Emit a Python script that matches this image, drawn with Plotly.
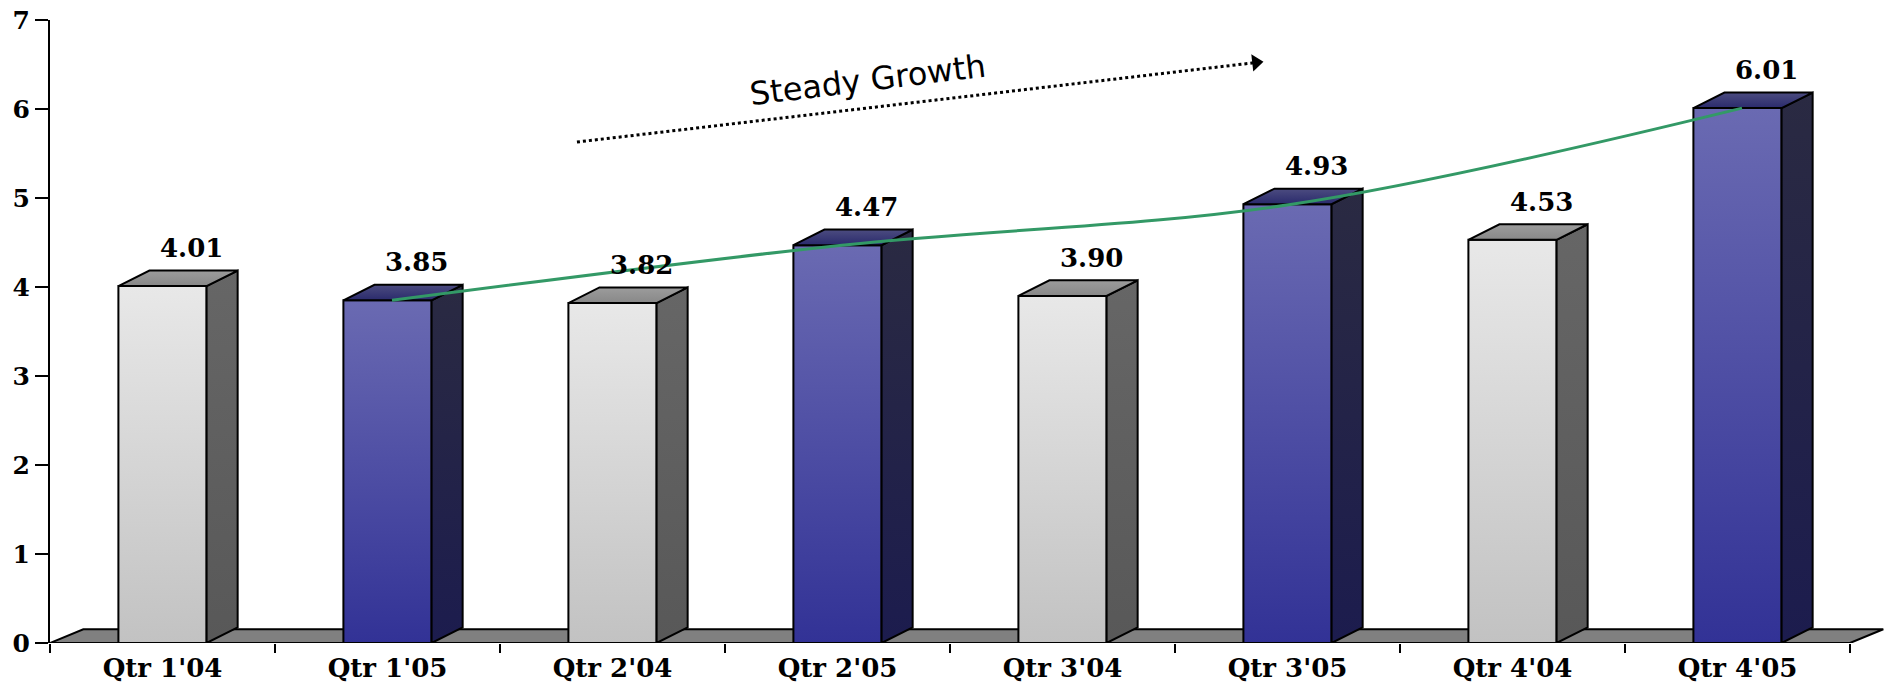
import plotly.graph_objects as go

# Quarterly values, 2004 vs 2005
categories = ["Qtr 1'04", "Qtr 1'05", "Qtr 2'04", "Qtr 2'05",
              "Qtr 3'04", "Qtr 3'05", "Qtr 4'04", "Qtr 4'05"]
values = [4.01, 3.85, 3.82, 4.47, 3.90, 4.93, 4.53, 6.01]
years = ["04", "05", "04", "05", "04", "05", "04", "05"]
y_ticks = [0, 1, 2, 3, 4, 5, 6, 7]

# Pseudo-3D geometry (axis units)
HALF_W = 0.196      # half width of the front face
DX = 0.138          # depth offset along x
DY = 0.175          # depth offset along y
X_MAX = 7.5 + 35 / 225

palette = {
    "04": dict(front=["#c2c2c2", "#e8e8e8"], side=["#585858", "#666666"],
               top=["#888888", "#9c9c9c"]),
    "05": dict(front=["#323296", "#6a6ab2"], side=["#1c1c4e", "#2a2a42"],
               top=["#2a2a6c", "#4c4c80"]),
}

fig = go.Figure()


def face(xs, ys, colors):
    fig.add_trace(go.Scatter(
        x=xs + [xs[0]], y=ys + [ys[0]], mode="lines", fill="toself",
        fillgradient=dict(type="vertical",
                          colorscale=[[0, colors[0]], [1, colors[1]]]),
        line=dict(color="black", width=2), hoverinfo="skip",
        showlegend=False))


# floor slab
n = len(categories)
fig.add_trace(go.Scatter(
    x=[-0.5, n - 0.5, n - 0.5 + DX + 0.01, -0.5 + DX + 0.01, -0.5],
    y=[0, 0, DY - 0.02, DY - 0.02, 0], mode="lines", fill="toself",
    fillcolor="#808080", line=dict(color="black", width=2),
    hoverinfo="skip", showlegend=False))

# bars: front, side and top faces
for i, (v, yr) in enumerate(zip(values, years)):
    c = palette[yr]
    x0, x1 = i - HALF_W, i + HALF_W
    face([x0, x1, x1, x0], [0, 0, v, v], c["front"])
    face([x1, x1 + DX, x1 + DX, x1], [0, DY, v + DY, v], c["side"])
    face([x0, x1, x1 + DX, x0 + DX], [v, v, v + DY, v + DY], c["top"])

# smooth trend through the 2005 quarters
trend_x = [i + 0.02 for i, yr in enumerate(years) if yr == "05"]
trend_y = [v for v, yr in zip(values, years) if yr == "05"]
fig.add_trace(go.Scatter(
    x=trend_x, y=trend_y, mode="lines",
    line=dict(color="#339966", width=3, shape="spline", smoothing=1.0),
    hoverinfo="skip", showlegend=False))

# dotted "steady growth" arrow
arrow_x = [1.842, 4.86]
arrow_y = [5.629, 6.522]
fig.add_trace(go.Scatter(
    x=arrow_x, y=arrow_y, mode="lines",
    line=dict(color="black", width=3, dash="dot"),
    hoverinfo="skip", showlegend=False))
fig.add_trace(go.Scatter(
    x=[arrow_x[1]], y=[arrow_y[1]], mode="markers",
    marker=dict(symbol="triangle-right", size=15, color="black",
                angle=-6.5),
    hoverinfo="skip", showlegend=False))

fig.add_annotation(x=3.133, y=6.33, text="Steady Growth", showarrow=False,
                   textangle=-7,
                   font=dict(family="DejaVu Sans", size=32, color="black"))

# value labels
for i, v in enumerate(values):
    fig.add_annotation(x=i, y=v, text=f"{v:.2f}", showarrow=False,
                       xanchor="center", yanchor="bottom",
                       xshift=29, yshift=21,
                       font=dict(family="DejaVu Serif", size=26,
                                 weight="bold", color="black"))

fig.update_layout(
    width=1885, height=687,
    margin=dict(l=50, r=0, t=20, b=44),
    paper_bgcolor="white", plot_bgcolor="white",
    xaxis=dict(range=[-0.5, X_MAX], tickvals=list(range(n)),
               ticktext=categories, ticks="", showgrid=False,
               zeroline=False, showline=False,
               ticklabelstandoff=7,
               tickfont=dict(family="DejaVu Serif", size=26,
                             weight="bold", color="black"),
               minor=dict(tickvals=[k - 0.5 for k in range(n + 1)],
                          ticks="outside", ticklen=9, tickwidth=2,
                          tickcolor="black", showgrid=False)),
    yaxis=dict(range=[0, 7], tickvals=y_ticks, ticks="outside",
               ticklen=13, tickwidth=2, tickcolor="black",
               showline=True, linewidth=2, linecolor="black",
               showgrid=False, zeroline=False,
               tickfont=dict(family="DejaVu Serif", size=25,
                             weight="bold", color="black")),
)

fig.write_html("out.html")
